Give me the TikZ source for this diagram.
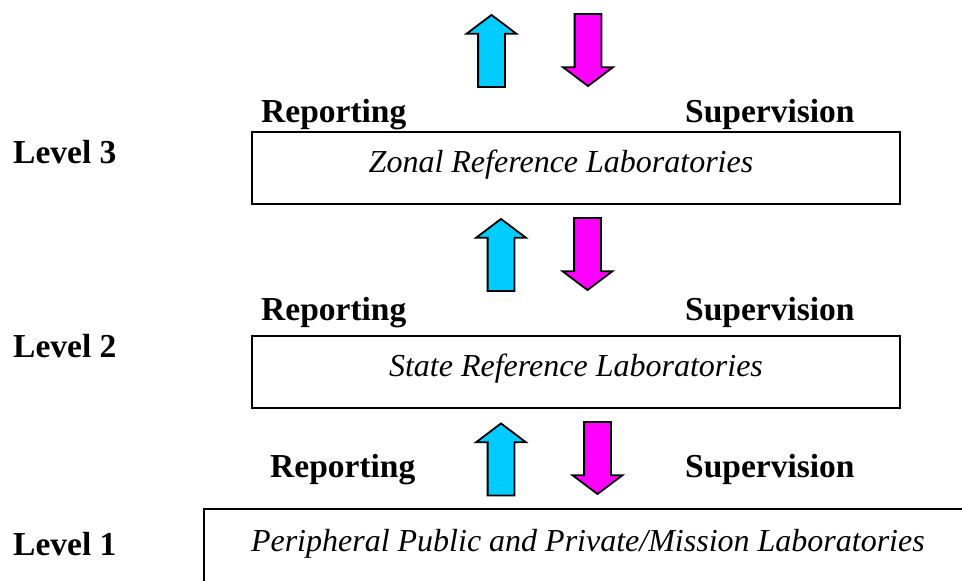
\documentclass[tikz,border=0pt]{standalone}
\usepackage{fontspec}
\setmainfont{Liberation Serif}
\usetikzlibrary{shapes.arrows}
\definecolor{repcyan}{RGB}{0,204,255}
\definecolor{supmag}{RGB}{255,0,255}

\begin{document}
\begin{tikzpicture}[x=1pt, y=-1pt,
		l/.style = {rectangle, draw=black, line width=2pt, minimum width=648pt, minimum height=72pt, inner sep=0pt, text height=26pt, text depth=18pt, font=\fontsize{32}{38}\selectfont\itshape},
		t/.style = {anchor=base west, inner sep=0pt, font=\fontsize{33.5}{40}\selectfont\bfseries},
		u/.style = {single arrow, rotate=90, draw=black, line width=1.8pt, fill=repcyan, inner sep=0pt, text height=12.5pt, text depth=12.5pt, minimum height=72pt, minimum width=48pt, single arrow head extend=11.5pt, single arrow tip angle=106},
		d/.style = {u, rotate=180, fill=supmag}
		]
		\useasboundingbox (0, 0) rectangle (962, 581);
		\clip (0, 0) rectangle (962, 581);
		
		% === === Nodes === ===
		\node[t]	(lv3)	at	(13, 163)		{Level 3};
		\node[t]	(lv2)	at	(13, 357)		{Level 2};
		\node[t]	(lv1)	at	(13, 555)		{Level 1};
		
		\node[l]	(zonal)	at	(576, 168)		{Zonal Reference Laboratories\hspace*{30pt}};
		\node[l]	(state)	at	(576, 372)		{State Reference Laboratories};
		\node[l, anchor=north west, minimum height=90pt, text depth=32pt, inner xsep=47pt]
					(periph)	at	(203, 508)	{Peripheral Public and Private/Mission Laboratories\hspace*{200pt}};
		
		\node[t]	(rep3)	at	(261, 122)		{Reporting};
		\node[t]	(sup3)	at	(685, 122)		{Supervision};
		\node[t]	(rep2)	at	(261, 320)		{Reporting};
		\node[t]	(sup2)	at	(685, 320)		{Supervision};
		\node[t]	(rep1)	at	(270, 477)		{Reporting};
		\node[t]	(sup1)	at	(685, 477)		{Supervision};
		
		% === === Arrows === ===
		\node[u]	(up3)	at	(491.5, 56)		{};
		\node[d]	(dn3)	at	(588, 45)		{};
		\node[u]	(up2)	at	(501, 260)		{};
		\node[d]	(dn2)	at	(587.5, 249)	{};
		\node[u]	(up1)	at	(501, 464.5)	{};
		\node[d]	(dn1)	at	(597.5, 453)	{};
		
	\end{tikzpicture}
\end{document}
